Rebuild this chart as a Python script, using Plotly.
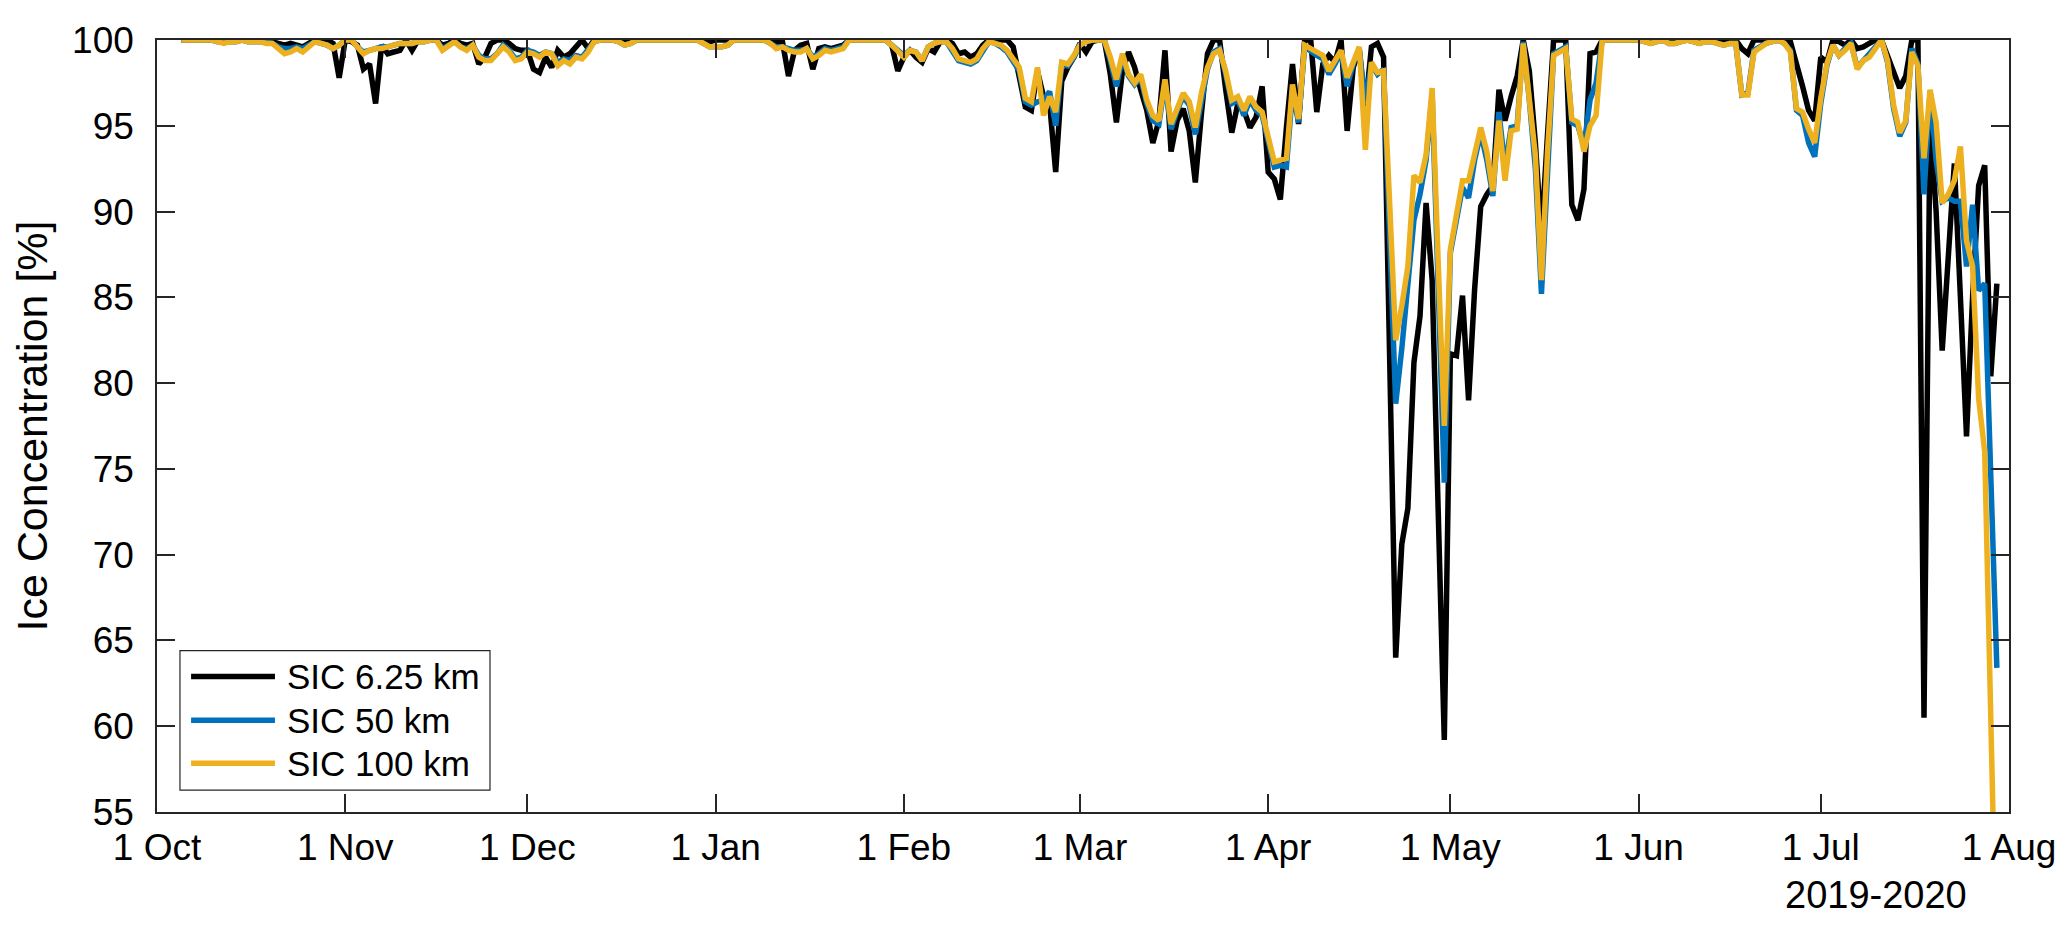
import pandas as pd
import plotly.graph_objects as go

# daily sea-ice concentration (%) from 5 Oct 2019 to 30 Jul 2020
start_date = "2019-10-05"

sic_6km = [
    100, 100, 100, 100, 100, 100, 100, 100, 100, 100,
    100, 100, 100, 100, 100, 99.9, 99.8, 99.7, 99.8, 99.7,
    99.6, 99.8, 100, 100, 100, 99.8, 97.8, 100, 99.9, 99.7,
    98.3, 98.6, 96.3, 99.7, 99.2, 99.3, 99.4, 100, 99.4, 100,
    100, 100, 100, 99.7, 99.8, 100, 99.8, 99.7, 99.8, 98.6,
    99.0, 99.8, 100, 100, 99.8, 99.5, 99.4, 99.4, 98.3, 98.1,
    99.0, 98.4, 99.4, 99.0, 99.2, 99.6, 100, 99.5, 100, 100,
    100, 100, 100, 100, 100, 100, 100, 100, 100, 100,
    100, 100, 100, 100, 100, 100, 100, 99.9, 100, 100,
    100, 100, 100, 100, 100, 100, 100, 100, 99.9, 99.9,
    97.9, 99.4, 99.7, 99.8, 98.3, 99.5, 99.6, 99.5, 99.6, 99.7,
    100, 100, 100, 100, 100, 100, 100, 99.7, 98.2, 99.0,
    99.4, 99.0, 98.7, 99.5, 99.3, 99.9, 100, 99.8, 99.2, 99.3,
    99.0, 99.2, 99.7, 100, 100, 100, 100, 99.6, 98.0, 96.1,
    95.9, 98.2, 96.7, 96.3, 92.3, 97.6, 98.4, 99.0, 99.8, 99.3,
    99.9, 100, 100, 98.0, 95.2, 98.2, 99.3, 98.4, 97.1, 95.9,
    94.0, 95.3, 99.4, 93.5, 95.3, 96.0, 94.7, 91.7, 95.7, 99.2,
    100, 100, 97.1, 94.6, 96.3, 95.9, 94.9, 95.5, 97.3, 92.3,
    91.9, 90.7, 94.9, 98.6, 95.1, 100, 100, 95.8, 98.6, 99.1,
    98.7, 100, 94.7, 98.4, 99.4, 96.0, 99.6, 99.8, 99.0, 80.0,
    64.0, 70.6, 72.7, 81.2, 83.9, 90.5, 86.0, 72.5, 59.2, 81.7,
    81.6, 85.1, 79.0, 85.5, 90.3, 91.0, 91.5, 97.1, 95.3, 96.7,
    97.9, 100, 98.2, 94.0, 88.6, 94.5, 100, 100, 100, 90.4,
    89.5, 91.3, 99.2, 99.3, 100, 100, 100, 100, 100, 100,
    100, 100, 100, 100, 100, 100, 100, 100, 100, 100,
    100, 100, 100, 100, 100, 100, 100, 99.5, 99.2, 100,
    100, 100, 100, 100, 100, 99.9, 98.7, 97.3, 95.9, 95.3,
    99.0, 98.7, 100, 99.9, 99.7, 100, 99.5, 99.6, 99.8, 100,
    100, 99.0, 98.0, 97.2, 97.9, 100, 100, 60.5, 95.3, 90.0,
    81.9, 88.0, 92.8, 85.0, 76.9, 85.0, 91.5, 92.7, 80.4, 85.8,
]

sic_50km = [
    100, 100, 100, 100, 100, 100, 99.9, 99.9, 99.9, 99.9,
    100, 99.9, 99.9, 99.9, 99.9, 99.8, 99.6, 99.5, 99.5, 99.6,
    99.5, 99.7, 99.9, 99.8, 99.7, 99.5, 99.7, 100, 100, 99.6,
    99.3, 99.4, 99.5, 99.6, 99.6, 99.7, 99.8, 99.8, 99.8, 99.9,
    99.9, 100, 100, 99.5, 99.7, 99.9, 99.6, 99.5, 99.7, 99.1,
    98.9, 98.9, 99.2, 99.7, 99.4, 98.9, 99.0, 99.4, 99.3, 99.1,
    99.3, 99.2, 98.7, 98.9, 98.8, 99.1, 99.0, 99.4, 99.9, 100,
    100, 100, 99.9, 99.7, 99.8, 100, 100, 100, 100, 100,
    100, 100, 100, 100, 100, 100, 99.8, 99.6, 99.6, 99.6,
    99.7, 100, 100, 100, 100, 100, 100, 99.8, 99.6, 99.6,
    99.5, 99.4, 99.4, 99.5, 99.0, 99.2, 99.5, 99.4, 99.5, 99.6,
    100, 100, 100, 100, 100, 100, 100, 99.7, 99.4, 99.1,
    99.4, 99.3, 98.8, 99.6, 99.8, 99.9, 99.9, 99.4, 98.8, 98.7,
    98.6, 98.8, 99.4, 99.9, 99.8, 99.6, 99.3, 98.8, 98.2, 96.4,
    96.2, 96.4, 96.5, 97.0, 95.0, 98.6, 98.5, 99.0, 99.7, 99.9,
    100, 100, 100, 98.8, 97.3, 99.0, 97.9, 97.4, 97.8, 96.3,
    95.3, 95.1, 97.5, 94.8, 95.9, 96.7, 96.2, 94.5, 96.6, 98.3,
    99.3, 99.5, 98.0, 96.3, 96.5, 95.6, 96.5, 95.9, 95.6, 94.0,
    92.6, 92.7, 92.6, 97.0, 95.2, 99.6, 99.3, 99.1, 98.9, 98.0,
    98.6, 99.3, 97.3, 98.6, 99.5, 96.3, 98.6, 98.0, 98.3, 87.5,
    78.8, 82.0, 85.5, 89.5, 91.0, 93.0, 96.8, 85.0, 74.2, 87.6,
    89.5, 91.4, 90.8, 93.0, 94.6, 93.0, 90.9, 95.8, 92.6, 94.9,
    95.0, 99.9, 96.5, 92.5, 85.2, 93.0, 99.2, 99.4, 99.6, 95.2,
    95.0, 93.8, 96.5, 97.5, 100, 100, 100, 100, 100, 100,
    100, 99.9, 99.8, 99.9, 100, 99.8, 99.8, 99.9, 100, 99.9,
    99.8, 99.9, 99.9, 99.8, 99.7, 99.8, 99.8, 96.8, 96.9, 99.4,
    99.6, 99.8, 99.9, 100, 99.8, 99.4, 95.9, 95.6, 94.0, 93.2,
    96.3, 98.5, 99.7, 99.1, 99.5, 99.8, 98.4, 98.8, 99.1, 99.6,
    100, 98.7, 96.0, 94.4, 95.2, 99.5, 98.6, 91.0, 97.0, 93.0,
    90.6, 90.8, 90.6, 90.6, 86.8, 90.4, 85.4, 85.8, 75.0, 63.4,
]

sic_100km = [
    100, 100, 100, 100, 100, 100, 99.9, 99.8, 99.9, 99.9,
    100, 99.9, 99.9, 99.9, 99.8, 99.8, 99.5, 99.2, 99.3, 99.5,
    99.3, 99.6, 99.9, 99.8, 99.7, 99.5, 99.7, 100, 100, 99.6,
    99.2, 99.4, 99.5, 99.5, 99.6, 99.7, 99.8, 99.8, 99.8, 99.9,
    99.9, 100, 100, 99.4, 99.7, 99.9, 99.6, 99.4, 99.7, 99.0,
    98.8, 98.8, 99.2, 99.6, 99.3, 98.8, 98.9, 99.3, 99.2, 99.0,
    99.3, 99.2, 98.5, 98.8, 98.6, 99.0, 98.9, 99.3, 99.9, 100,
    100, 100, 99.9, 99.7, 99.8, 100, 100, 100, 100, 100,
    100, 100, 100, 100, 100, 100, 99.8, 99.6, 99.6, 99.6,
    99.7, 100, 100, 100, 100, 100, 100, 99.8, 99.5, 99.6,
    99.4, 99.3, 99.3, 99.5, 98.9, 99.1, 99.4, 99.3, 99.4, 99.5,
    100, 100, 100, 100, 100, 100, 100, 99.7, 99.4, 99.0,
    99.4, 99.3, 98.8, 99.6, 99.8, 99.9, 99.9, 99.5, 98.9, 98.8,
    98.7, 98.9, 99.5, 99.9, 99.8, 99.7, 99.4, 98.9, 98.4, 96.6,
    96.4, 98.4, 95.6, 96.7, 95.8, 98.7, 98.6, 99.1, 99.7, 99.9,
    100, 100, 100, 99.0, 97.7, 99.2, 98.0, 97.5, 98.0, 96.5,
    95.6, 95.3, 97.7, 95.1, 96.1, 96.9, 96.4, 94.9, 96.9, 98.4,
    99.2, 99.4, 98.2, 96.5, 96.7, 95.9, 96.7, 96.1, 95.8, 94.3,
    92.9, 93.0, 93.1, 97.4, 95.4, 99.7, 99.5, 99.3, 99.1, 98.2,
    98.8, 99.4, 97.8, 98.8, 99.6, 93.6, 98.7, 98.1, 98.2, 90.5,
    82.5, 84.5, 86.8, 92.1, 91.7, 93.3, 97.2, 87.0, 77.5, 87.8,
    89.8, 91.8, 91.8, 93.5, 94.9, 93.5, 91.2, 95.3, 91.8, 94.7,
    94.8, 99.8, 96.8, 93.3, 86.0, 93.5, 99.1, 99.3, 99.5, 95.4,
    95.2, 93.5, 95.0, 95.6, 100, 100, 100, 100, 100, 100,
    100, 99.9, 99.8, 99.9, 100, 99.8, 99.8, 99.9, 100, 99.9,
    99.8, 99.9, 99.9, 99.8, 99.7, 99.8, 99.8, 96.8, 96.8, 99.3,
    99.6, 99.8, 99.9, 100, 99.8, 99.3, 96.0, 95.8, 94.8, 94.0,
    96.6, 98.6, 99.7, 99.1, 99.4, 99.8, 98.3, 98.8, 99.0, 99.5,
    100, 98.8, 96.2, 94.6, 95.3, 99.3, 98.5, 93.1, 97.1, 95.2,
    90.5, 91.0, 91.8, 93.8, 88.3, 86.8, 79.1, 76.0, 62.0, 45.0,
]

series_names = ["SIC 6.25 km", "SIC 50 km", "SIC 100 km"]
series_colors = ["#000000", "#0072BD", "#EDB120"]

tick_dates = ["2019-10-01", "2019-11-01", "2019-12-01", "2020-01-01", "2020-02-01",
              "2020-03-01", "2020-04-01", "2020-05-01", "2020-06-01", "2020-07-01",
              "2020-08-01"]
tick_labels = ["1 Oct", "1 Nov", "1 Dec", "1 Jan", "1 Feb", "1 Mar", "1 Apr",
               "1 May", "1 Jun", "1 Jul", "1 Aug"]

dates = pd.date_range(start_date, periods=len(sic_6km), freq="D")
FONT = "Liberation Sans, Arial, sans-serif"
AX = "#262626"

fig = go.Figure()
for name, vals, col in zip(series_names, [sic_6km, sic_50km, sic_100km], series_colors):
    fig.add_trace(go.Scatter(x=dates, y=vals, mode="lines", name=name,
                             line=dict(color=col, width=5.5), showlegend=False))

# MATLAB-style legend box, lower left
lx0, lx1, tx = 0.0184, 0.0637, 0.0691
rows_y = [0.1755, 0.1187, 0.0632]
fig.add_shape(type="rect", xref="paper", yref="paper", x0=0.0124, x1=0.1798,
              y0=0.0284, y1=0.209, line=dict(color=AX, width=1.2), fillcolor="white")
for name, col, ry in zip(series_names, series_colors, rows_y):
    fig.add_shape(type="line", xref="paper", yref="paper", x0=lx0, x1=lx1, y0=ry, y1=ry,
                  line=dict(color=col, width=5.5))
    fig.add_annotation(x=tx, y=ry, xref="paper", yref="paper", text=name, showarrow=False,
                       xanchor="left", yanchor="middle", font=dict(size=35, color="black"))

fig.add_annotation(x=0.928, y=-0.108, xref="paper", yref="paper", text="2019-2020",
                   showarrow=False, xanchor="center", yanchor="middle",
                   font=dict(size=38, color="black"))

fig.update_layout(
    width=2067, height=925,
    margin=dict(l=149, r=66, t=29, b=121),
    paper_bgcolor="white", plot_bgcolor="white",
    font=dict(family=FONT, size=37, color="black"),
    xaxis=dict(type="date", range=["2019-10-01", "2020-08-01"],
               tickvals=tick_dates, ticktext=tick_labels,
               showgrid=False, zeroline=False, showline=True, mirror="allticks",
               linecolor=AX, linewidth=1.5, ticks="inside", ticklen=18,
               tickwidth=1.5, tickcolor=AX, ticklabelstandoff=2),
    yaxis=dict(range=[55, 100], dtick=5, showgrid=False, zeroline=False,
               showline=True, mirror="allticks", linecolor=AX, linewidth=1.5,
               ticks="inside", ticklen=18, tickwidth=1.5, tickcolor=AX,
               ticklabelstandoff=14,
               title=dict(text="Ice Concentration [%]", font=dict(size=43), standoff=18)),
)

fig.write_html("out.html")
